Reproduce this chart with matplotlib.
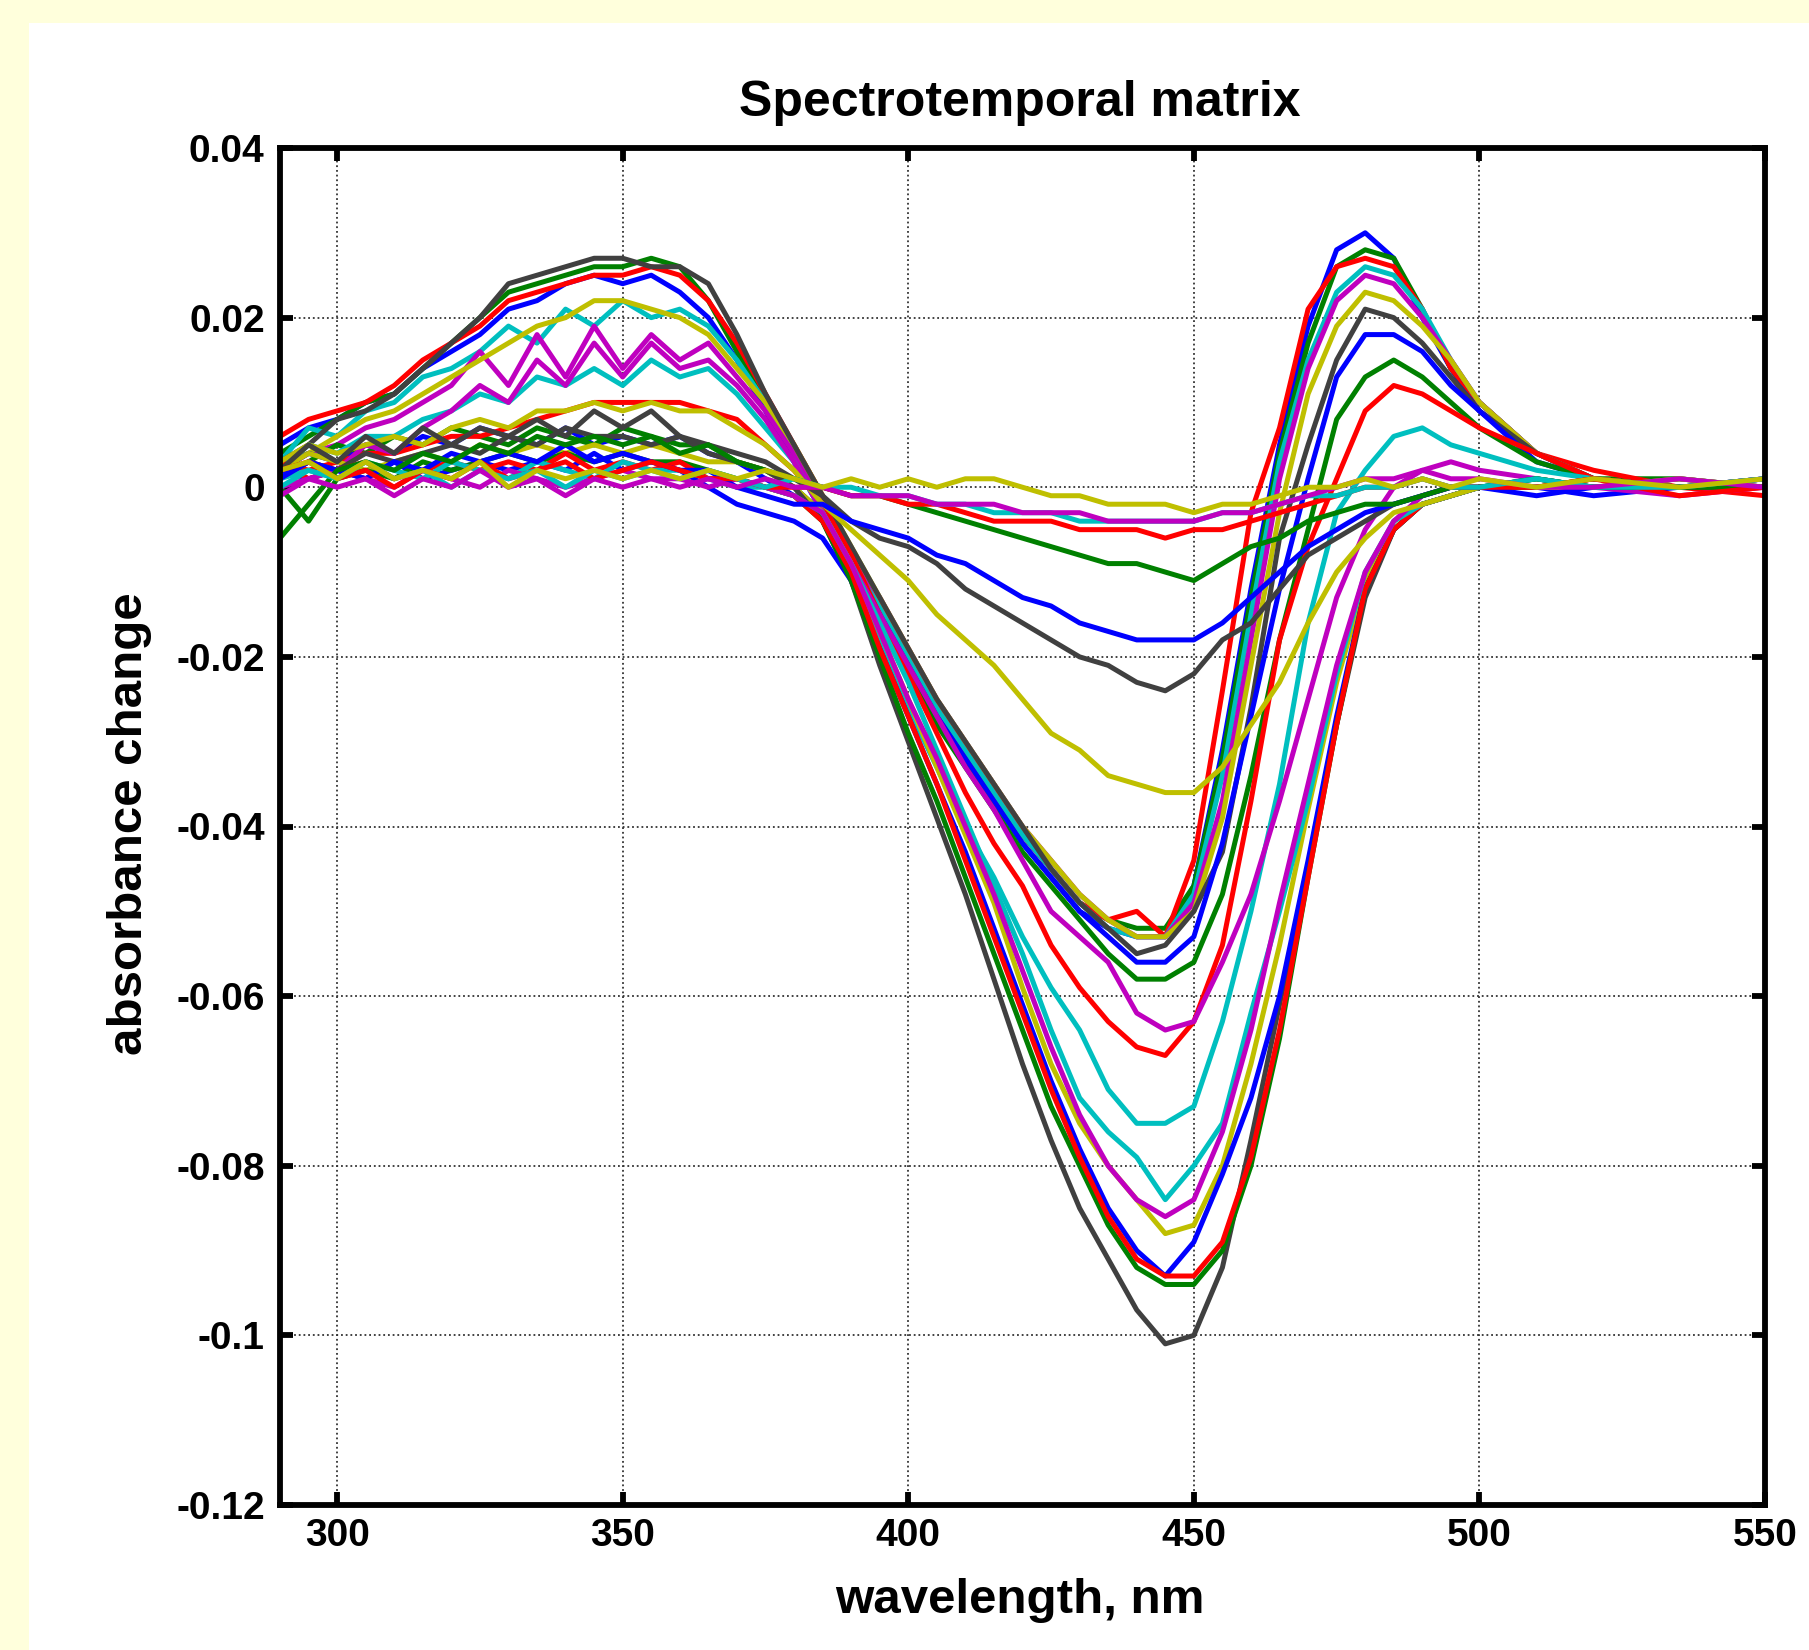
import matplotlib
matplotlib.use('Agg')
import matplotlib.pyplot as plt
from matplotlib.patches import Rectangle
import numpy as np

# wavelength grid, nm
wavelength = [290, 295, 300, 305, 310, 315, 320, 325, 330, 335, 340, 345, 350, 355, 360, 365, 370, 375, 380,
              385, 390, 395, 400, 405, 410, 415, 420, 425, 430, 435, 440, 445, 450, 455, 460, 465, 470, 475,
              480, 485, 490, 495, 500, 510, 520, 535, 550]

# absorbance change, in 1e-3 units, in plotting order (MATLAB colour cycle b g r c m y k)
s01 = [5, 7, 8, 10, 11, 14, 16, 18, 21, 22, 24, 25, 24, 25, 23, 20, 15, 9, 3,
       -3, -9, -15, -21, -27, -32, -37, -42, -46, -50, -52, -53, -53, -47, -31, -12, 5, 19, 28, 30, 27, 20, 14, 9,
       4, 1, 0, 0]
s02 = [4, 6, 8, 10, 11, 14, 17, 20, 23, 24, 25, 26, 26, 27, 26, 22, 16, 10, 4,
       -2, -8, -14, -20, -26, -31, -36, -41, -45, -49, -51, -52, -52, -47, -32, -13, 4, 17, 26, 28, 27, 21, 14, 10,
       4, 1, 1, 0]
s03 = [6, 8, 9, 10, 12, 15, 17, 19, 22, 23, 24, 25, 25, 26, 25, 22, 17, 11, 5,
       -1, -8, -14, -20, -26, -31, -36, -41, -45, -49, -51, -50, -53, -44, -24, -3, 7, 21, 26, 27, 26, 21, 14, 10,
       4, 2, 0, 1]
s04 = [3, 7, 6, 9, 10, 13, 14, 16, 19, 17, 21, 19, 22, 20, 21, 19, 15, 10, 4,
       -2, -8, -14, -20, -26, -31, -36, -41, -45, -49, -52, -53, -53, -48, -34, -15, 3, 15, 23, 26, 25, 21, 15, 10,
       4, 1, 0, 0]
s05 = [2, 4, 5, 7, 8, 10, 12, 16, 12, 18, 13, 19, 14, 18, 15, 17, 13, 9, 4,
       -2, -8, -13, -19, -25, -30, -35, -40, -44, -48, -51, -53, -53, -49, -37, -18, 1, 14, 22, 25, 24, 20, 15, 10,
       4, 1, 0, 0]
s06 = [3, 4, 6, 8, 9, 11, 13, 15, 17, 19, 20, 22, 22, 21, 20, 18, 14, 10, 5,
       -1, -7, -13, -19, -25, -30, -35, -40, -44, -48, -51, -53, -53, -50, -39, -21, -3, 11, 19, 23, 22, 19, 15, 10,
       4, 1, 0, 0]
s07 = [3, 5, 8, 9, 11, 14, 17, 20, 24, 25, 26, 27, 27, 26, 26, 24, 18, 11, 5,
       -1, -7, -13, -19, -25, -30, -35, -40, -45, -49, -52, -55, -54, -50, -43, -26, -6, 5, 15, 21, 20, 17, 13, 9,
       4, 1, 0, 0]
s08 = [2, 4, 3, 5, 4, 6, 5, 7, 6, 5, 7, 5, 6, 5, 6, 4, 3, 1, -1,
       -3, -9, -15, -21, -27, -32, -37, -42, -46, -50, -53, -56, -56, -53, -42, -27, -12, 1, 13, 18, 18, 16, 12, 9,
       3, 1, 0, 0]
s09 = [1, 3, 5, 4, 6, 5, 7, 6, 5, 7, 6, 5, 7, 6, 5, 5, 3, 2, 0,
       -3, -10, -16, -22, -28, -33, -38, -43, -47, -51, -55, -58, -58, -56, -48, -34, -18, -5, 8, 13, 15, 13, 10, 7,
       3, 1, 0, 0]
s10 = [3, 2, 3, 4, 4, 5, 6, 6, 7, 8, 9, 10, 10, 10, 10, 9, 8, 5, 2,
       -2, -8, -15, -22, -29, -36, -42, -47, -54, -59, -63, -66, -67, -63, -54, -37, -18, -7, 1, 9, 12, 11, 9, 7,
       4, 1, 0, 0]
s11 = [2, 5, 4, 6, 6, 8, 9, 11, 10, 13, 12, 14, 12, 15, 13, 14, 11, 7, 3,
       -3, -10, -18, -26, -33, -40, -46, -53, -59, -64, -71, -75, -75, -73, -63, -50, -35, -16, -3, 2, 6, 7, 5, 4,
       2, 1, 0, 0]
s12 = [1, 3, 2, 5, 4, 7, 9, 12, 10, 15, 12, 17, 13, 17, 14, 15, 12, 8, 3,
       -3, -9, -15, -21, -27, -33, -38, -44, -50, -53, -56, -62, -64, -63, -56, -48, -37, -25, -13, -5, 0, 2, 3, 2,
       1, 0, 0, 0]
s13 = [2, 4, 3, 2, 3, 4, 3, 5, 4, 5, 4, 5, 4, 5, 4, 3, 3, 2, 0,
       -3, -9, -17, -25, -33, -41, -49, -59, -68, -75, -80, -84, -88, -87, -80, -68, -54, -38, -23, -11, -4, -2, -1, 0,
       0, 1, 0, 0]
s14 = [1, 3, 2, 4, 3, 4, 5, 4, 6, 5, 7, 6, 6, 5, 6, 4, 3, 2, 0,
       -4, -11, -21, -30, -39, -48, -58, -68, -77, -85, -91, -97, -101, -100, -92, -77, -61, -45, -28, -13, -5, -2, -1, 0,
       0, 0, 1, 0]
s15 = [2, 1, 2, 1, 3, 1, 2, 3, 2, 3, 2, 4, 2, 3, 2, 0, -2, -3, -4,
       -6, -11, -19, -27, -35, -43, -52, -61, -70, -78, -85, -90, -93, -89, -81, -72, -60, -44, -27, -12, -5, -2, -1, 0,
       0, -1, 0, 1]
s16 = [0, -4, 1, 2, 1, 3, 2, 3, 4, 3, 4, 3, 4, 3, 3, 2, 1, 0, -1,
       -4, -11, -20, -29, -37, -46, -55, -64, -73, -80, -87, -92, -94, -94, -90, -80, -65, -46, -28, -12, -5, -2, -1, 0,
       1, 0, 0, 0]
s17 = [3, 1, 2, 3, 1, 2, 3, 2, 3, 2, 4, 2, 3, 2, 3, 1, 1, 0, -1,
       -4, -10, -19, -27, -35, -44, -53, -62, -71, -79, -86, -91, -93, -93, -89, -79, -64, -46, -28, -12, -5, -2, -1, 0,
       0, 1, 0, -1]
s18 = [1, 2, 1, 3, 2, 1, 3, 2, 1, 3, 2, 1, 3, 2, 2, 1, 0, 0, -1,
       -3, -9, -16, -23, -31, -39, -47, -55, -64, -72, -76, -79, -84, -80, -75, -62, -50, -37, -22, -10, -4, -2, -1, 0,
       1, 0, 0, 1]
s19 = [0, 1, 2, 1, 0, 2, 1, 0, 2, 1, 0, 1, 2, 1, 1, 0, 1, 0, -1,
       -3, -9, -17, -25, -32, -40, -48, -57, -66, -74, -80, -84, -86, -84, -76, -64, -49, -35, -21, -10, -4, -1, 0, 0,
       0, 0, -1, 0]
s20 = [3, 5, 4, 5, 6, 5, 7, 8, 7, 9, 9, 10, 9, 10, 9, 9, 7, 5, 2,
       -2, -5, -8, -11, -15, -18, -21, -25, -29, -31, -34, -35, -36, -36, -33, -28, -23, -16, -10, -6, -3, -2, -1, 0,
       0, 0, 1, 0]
s21 = [2, 5, 3, 6, 4, 7, 5, 7, 6, 8, 6, 9, 7, 9, 6, 5, 4, 3, 1,
       -1, -4, -6, -7, -9, -12, -14, -16, -18, -20, -21, -23, -24, -22, -18, -16, -12, -8, -6, -4, -2, -1, 0, 0,
       0, 1, 0, 0]
s22 = [1, 3, 2, 1, 3, 2, 4, 3, 4, 3, 5, 3, 4, 3, 2, 2, 0, -1, -2,
       -2, -4, -5, -6, -8, -9, -11, -13, -14, -16, -17, -18, -18, -18, -16, -13, -10, -7, -5, -3, -2, -1, 0, 0,
       -1, 0, 0, 1]
s23 = [-6, -2, 2, 3, 2, 4, 3, 5, 4, 6, 5, 6, 5, 6, 4, 5, 3, 2, 1,
       0, -1, -1, -2, -3, -4, -5, -6, -7, -8, -9, -9, -10, -11, -9, -7, -6, -4, -3, -2, -2, -1, 0, 0,
       1, 0, 0, 0]
s24 = [2, 3, 1, 2, 0, 2, 1, 3, 1, 2, 3, 1, 2, 3, 2, 1, 1, 0, 0,
       0, -1, -1, -2, -2, -3, -4, -4, -4, -5, -5, -5, -6, -5, -5, -4, -3, -2, -1, 0, 0, 1, 0, 0,
       0, 1, -1, 0]
s25 = [0, 2, 1, 3, 1, 2, 0, 2, 1, 2, 0, 2, 1, 2, 1, 2, 1, 0, 1,
       0, 0, -1, -1, -2, -2, -3, -3, -3, -4, -4, -4, -4, -4, -3, -3, -2, -1, -1, 0, 0, 1, 0, 0,
       1, 0, 0, 1]
s26 = [-1, 1, 0, 1, -1, 1, 0, 2, 0, 1, -1, 1, 0, 1, 0, 1, 0, 1, 0,
       0, -1, -1, -1, -2, -2, -2, -3, -3, -3, -4, -4, -4, -4, -3, -3, -2, -1, 0, 1, 1, 2, 1, 1,
       0, 0, 1, 0]
s27 = [2, 3, 1, 3, 1, 2, 1, 3, 0, 2, 1, 2, 1, 2, 1, 2, 1, 2, 1,
       0, 1, 0, 1, 0, 1, 1, 0, -1, -1, -2, -2, -2, -3, -2, -2, -1, 0, 0, 1, 0, 1, 0, 1,
       0, 1, 0, 1]

spectra = [s01, s02, s03, s04, s05, s06, s07, s08, s09, s10, s11, s12, s13, s14,
           s15, s16, s17, s18, s19, s20, s21, s22, s23, s24, s25, s26, s27]

xticks = [300, 350, 400, 450, 500, 550]
yticks = [-0.12, -0.1, -0.08, -0.06, -0.04, -0.02, 0, 0.02, 0.04]
ytick_labels = ['-0.12', '-0.1', '-0.08', '-0.06', '-0.04', '-0.02', '0', '0.02', '0.04']

# matlab default colour order
matlab_colors = [(0, 0, 1), (0, 0.5, 0), (1, 0, 0), (0, 0.75, 0.75),
                 (0.75, 0, 0.75), (0.75, 0.75, 0), (0.25, 0.25, 0.25)]

W, H = 1809, 1650
fig = plt.figure(figsize=(W / 100, H / 100), dpi=100)
fig.patch.set_facecolor('#ffffdc')
fig.patches.append(Rectangle((29 / W, 0), 1 - 29 / W, 1 - 23 / H, transform=fig.transFigure,
                             facecolor='white', edgecolor='none', zorder=-10))

ax = fig.add_axes([280 / W, 1 - 1505 / H, 1485 / W, 1357 / H])
ax.set_prop_cycle(color=matlab_colors)

wl = np.array(wavelength)
for s in spectra:
    ax.plot(wl, np.array(s) / 1000.0, lw=3.6)

ax.set_xlim(290, 550)
ax.set_ylim(-0.12, 0.04)
ax.set_xticks(xticks)
ax.set_xticklabels([str(t) for t in xticks])
ax.set_yticks(yticks)
ax.set_yticklabels(ytick_labels)

font = 'Liberation Sans'
for lab in ax.get_xticklabels() + ax.get_yticklabels():
    lab.set_fontfamily(font)
    lab.set_fontweight('bold')
    lab.set_fontsize(28)

ax.tick_params(axis='both', direction='in', length=9.5, width=4.2, top=True, right=True, color='black')
ax.tick_params(axis='x', pad=9)
ax.tick_params(axis='y', pad=11)
for sp in ax.spines.values():
    sp.set_linewidth(4.2)

ax.set_axisbelow(True)
ax.grid(True, color='#333333', lw=1.3, linestyle=(0, (1, 1.6)))

fig.text(1020 / W, 1 - 116 / H, 'Spectrotemporal matrix', ha='center', va='baseline',
         fontsize=36, fontweight='bold', family=font)
fig.text(1020 / W, 1 - 1613 / H, 'wavelength, nm', ha='center', va='baseline',
         fontsize=35.5, fontweight='bold', family=font)
fig.text(129 / W, 826 / H, 'absorbance change', ha='center', va='center', rotation=90,
         fontsize=35.5, fontweight='bold', family=font)

fig.savefig('out.png', dpi=100, facecolor=fig.get_facecolor())
